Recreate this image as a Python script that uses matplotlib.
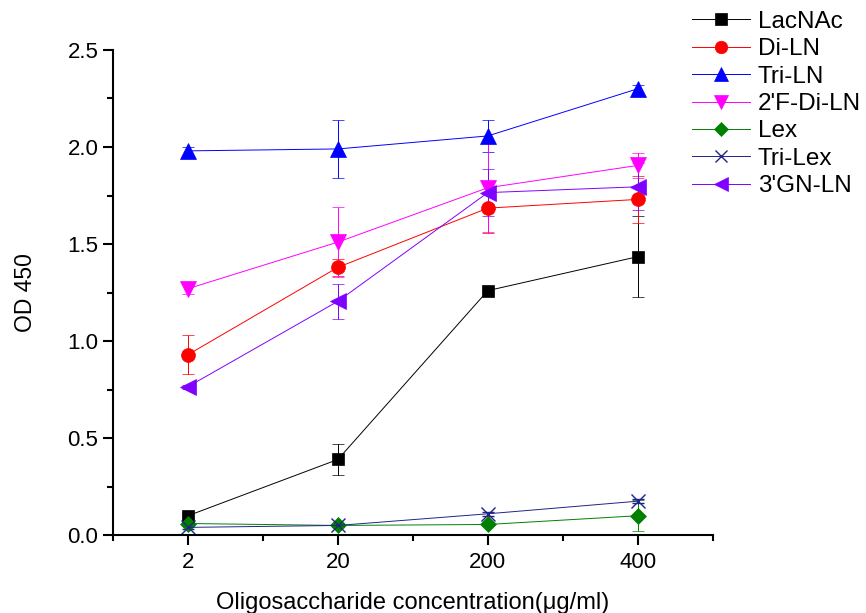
import matplotlib
matplotlib.use("Agg")
import matplotlib.pyplot as plt
from matplotlib.lines import Line2D
from matplotlib.ticker import MultipleLocator, FixedLocator

plt.rcParams["font.family"] = ["Liberation Sans", "DejaVu Sans"]

# concentrations (categorical axis)
conc_labels = ["2", "20", "200", "400"]

lacnac = [0.10, 0.39, 1.26, 1.435]
lacnac_err = [0.01, 0.08, 0.01, 0.21]
di_ln = [0.93, 1.38, 1.685, 1.73]
di_ln_err = [0.10, 0.045, 0.13, 0.12]
tri_ln = [1.98, 1.99, 2.057, 2.30]
tri_ln_err = [0.02, 0.15, 0.083, 0.02]
f2_di_ln = [1.27, 1.51, 1.79, 1.905]
f2_di_ln_err = [0.03, 0.18, 0.23, 0.065]
lex = [0.06, 0.05, 0.055, 0.10]
lex_err = [0.01, 0.01, 0.01, 0.08]
tri_lex = [0.04, 0.05, 0.11, 0.175]
tri_lex_err = [0.01, 0.01, 0.01, 0.01]
gn3_ln = [0.765, 1.205, 1.765, 1.795]
gn3_ln_err = [0.01, 0.09, 0.12, 0.12]

series = [
    ("LacNAc", lacnac, lacnac_err, "black", "s", 9),
    ("Di-LN", di_ln, di_ln_err, "red", "o", 10),
    ("Tri-LN", tri_ln, tri_ln_err, "blue", "^", 11),
    ("2'F-Di-LN", f2_di_ln, f2_di_ln_err, "magenta", "v", 11),
    ("Lex", lex, lex_err, "green", "D", 8),
    ("Tri-Lex", tri_lex, tri_lex_err, "#22228a", "x", 10),
    ("3'GN-LN", gn3_ln, gn3_ln_err, "#8000ff", "<", 11),
]

fig = plt.figure(figsize=(8.66, 6.13), dpi=100)
ax = fig.add_axes([0.1305, 0.127, 0.6925, 0.7915])

x = list(range(len(conc_labels)))
handles = []
for name, vals, errs, color, marker, ms in series:
    mew = 1.0 if marker == "x" else 0.5
    ax.errorbar(x, vals, yerr=errs, color=color, marker=marker, markersize=ms,
                linewidth=0.7, elinewidth=0.7, capsize=4, capthick=0.7,
                markeredgewidth=mew)
    handles.append(Line2D([], [], color=color, marker=marker, markersize=ms - 1,
                          linewidth=0.7, markeredgewidth=mew, label=name))

ax.set_xlim(-0.5, 3.5)
ax.set_ylim(0, 2.5)
ax.set_xticks(x)
ax.set_xticklabels(conc_labels)
ax.xaxis.set_minor_locator(FixedLocator([-0.5, 0.5, 1.5, 2.5, 3.5]))
ax.yaxis.set_major_locator(MultipleLocator(0.5))
ax.yaxis.set_minor_locator(MultipleLocator(0.25))
ax.yaxis.set_major_formatter(matplotlib.ticker.FormatStrFormatter("%.1f"))

for side in ["top", "right"]:
    ax.spines[side].set_visible(False)
for side in ["left", "bottom"]:
    ax.spines[side].set_linewidth(1.5)
ax.tick_params(which="major", direction="out", length=7, width=1.5, labelsize=16)
ax.tick_params(which="minor", direction="out", length=4, width=1.5)
ax.tick_params(axis="x", pad=5)

ax.set_xlabel("Oligosaccharide concentration(\u03bcg/ml)", fontsize=17, labelpad=14)
ax.set_ylabel("OD 450", fontsize=16.5, labelpad=22)

fig.legend(handles=handles, loc="upper left", bbox_to_anchor=(0.788, 0.998),
           frameon=False, fontsize=17.5, handlelength=2.4, labelspacing=0.22,
           handletextpad=0.3, borderaxespad=0.0)

fig.savefig("out.png", dpi=100)
